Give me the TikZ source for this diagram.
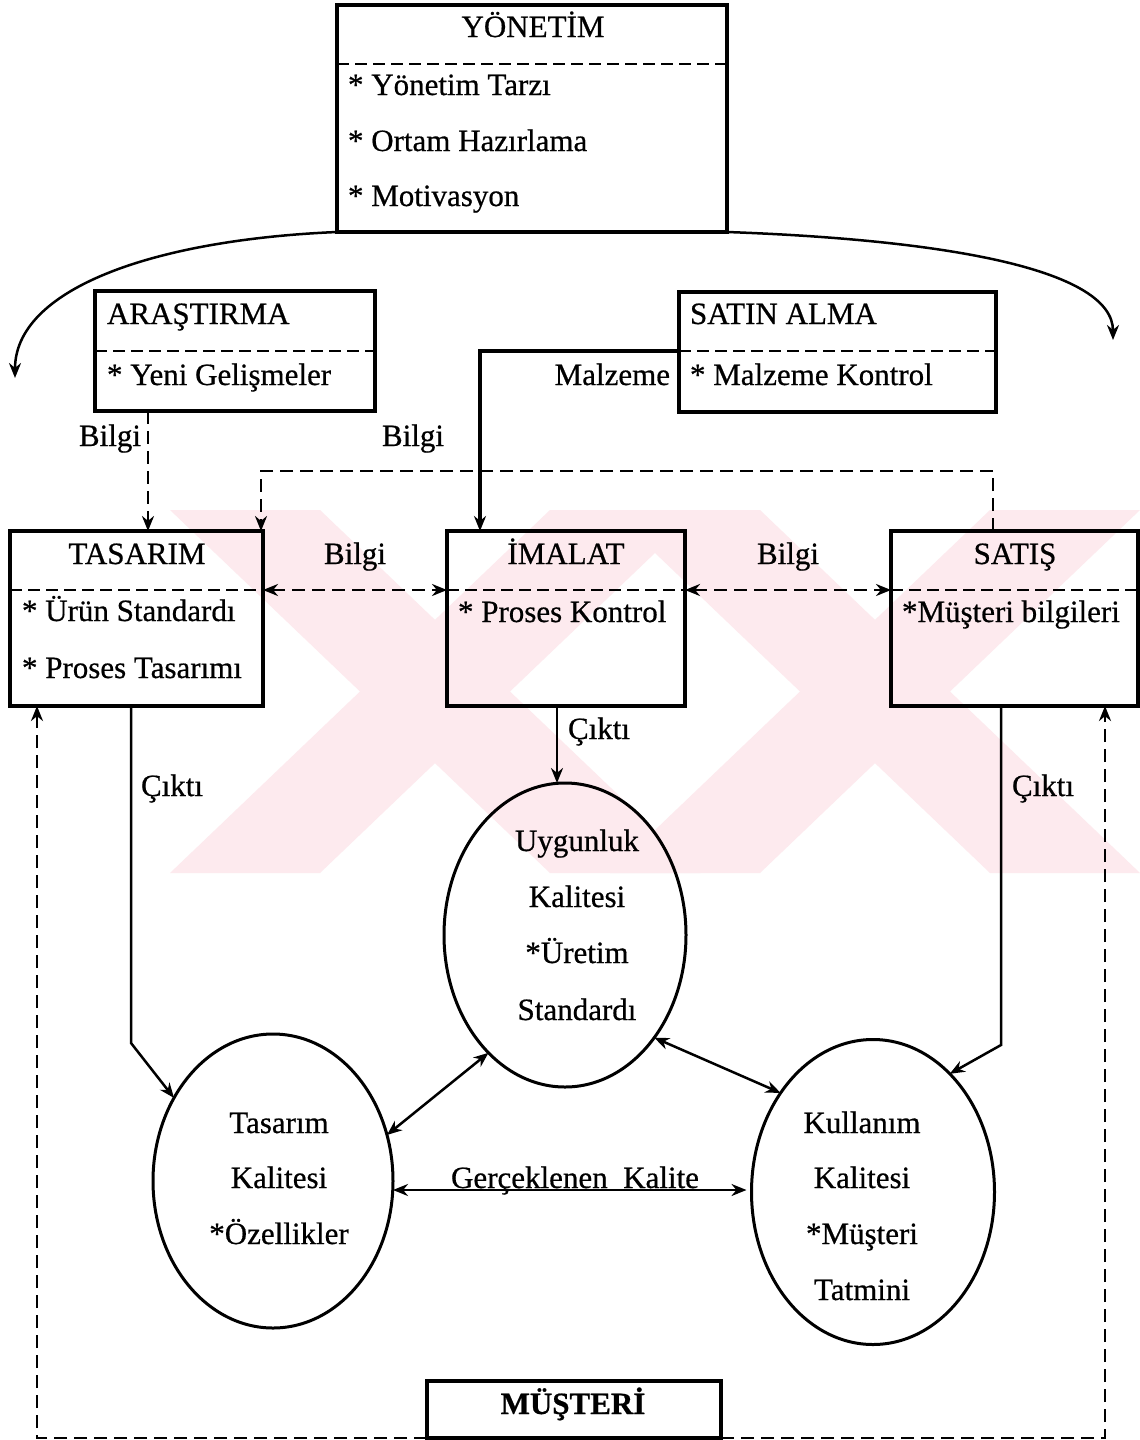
\documentclass[tikz,border=0pt]{standalone}
\usepackage{fontspec}
\setmainfont{Liberation Serif}[FakeBold=0.6]
\usetikzlibrary{arrows.meta,shapes.geometric,calc}
\definecolor{wmpink}{RGB}{253,234,238}

\begin{document}
\begin{tikzpicture}[x=1pt,y=-1pt,
  >={Stealth[length=15pt,width=12pt]},
  box/.style={draw,line width=3.4pt,rectangle,inner sep=0pt,outer sep=0pt,anchor=north west},
  sepline/.style={line width=2pt,dash pattern=on 12pt off 6pt},
  lbl/.style={inner sep=0pt,outer sep=0pt,font=\fontsize{31}{37}\selectfont},
  lt/.style={lbl,anchor=base west},
  ct/.style={lbl,anchor=base},
  rt/.style={lbl,anchor=base east},
  oval/.style={draw,ellipse,line width=3pt,inner sep=0pt,outer sep=0pt},
  flow/.style={line width=2.5pt,->},
  flowtwo/.style={line width=2.5pt,<->},
  info/.style={line width=2.5pt,dash pattern=on 13pt off 7pt,->},
  infotwo/.style={line width=2.5pt,dash pattern=on 13pt off 7pt,<->},
]
% page
\fill[white] (0,0) rectangle (1140,1440);
\path[use as bounding box] (0,0) rectangle (1140,1440);

% faint background emblem
\fill[wmpink] (170,510) -- (320,510) -- (700,873) -- (550,873) -- cycle;
\fill[wmpink] (550,510) -- (700,510) -- (320,873) -- (170,873) -- cycle;
\fill[wmpink] (610,510) -- (760,510) -- (1140,873) -- (990,873) -- cycle;
\fill[wmpink] (990,510) -- (1140,510) -- (760,873) -- (610,873) -- cycle;

% ---------- boxes ----------
\node[box,minimum width=390,minimum height=227] (yon) at (337,5) {};
\node[box,minimum width=280,minimum height=120] (ara) at (95,291) {};
\node[box,minimum width=317,minimum height=120] (sat) at (679,292) {};
\node[box,minimum width=253,minimum height=175] (tas) at (10,531) {};
\node[box,minimum width=238,minimum height=175] (ima) at (447,531) {};
\node[box,minimum width=247,minimum height=175] (sts) at (891,531) {};
\node[box,minimum width=294,minimum height=57] (mus) at (427,1381) {};

% dashed separators under the box titles
\foreach \b/\d in {yon/59,ara/60,sat/59,tas/59,ima/59,sts/59}
  \draw[sepline] ($(\b.north west)+(0,\d)$) -- ($(\b.north east)+(0,\d)$);

% ---------- ellipses ----------
\node[oval,minimum width=242,minimum height=304] (uyg) at (565,935) {};
\node[oval,minimum width=240,minimum height=294] (tsk) at (273,1181) {};
\node[oval,minimum width=243,minimum height=305] (kul) at (873,1192) {};

% ---------- texts ----------
\node[ct] (yonT) at (533,37) {YÖNETİM};
\node[lt] (yon1) at (348,95) {* Yönetim Tarzı};
\node[lt] (yon2) at (348,151) {* Ortam Hazırlama};
\node[lt] (yon3) at (348,206) {* Motivasyon};

\node[lt] (araT) at (107,324) {ARAŞTIRMA};
\node[lt] (ara1) at (107,385) {* Yeni Gelişmeler};
\node[lt] (satT) at (690,324) {SATIN ALMA};
\node[lt] (sat1) at (690,385) {* Malzeme Kontrol};
\node[rt] (malz) at (670,385) {Malzeme};
\node[ct] (bilA) at (110,446) {Bilgi};
\node[ct] (bilB) at (413,446) {Bilgi};

\node[ct] (tasT) at (137,564) {TASARIM};
\node[lt] (tas1) at (22,621) {* Ürün Standardı};
\node[lt] (tas2) at (22,678) {* Proses Tasarımı};
\node[ct] (bilC) at (355,564) {Bilgi};
\node[ct] (imaT) at (566,564) {İMALAT};
\node[lt] (ima1) at (458,622) {* Proses Kontrol};
\node[ct] (bilD) at (788,564) {Bilgi};
\node[ct] (stsT) at (1015,564) {SATIŞ};
\node[lt] (sts1) at (902,622) {*Müşteri bilgileri};

\node[lt] (cikA) at (568,739) {Çıktı};
\node[lt] (cikB) at (141,796) {Çıktı};
\node[lt] (cikC) at (1012,796) {Çıktı};

\node[ct] (uyg1) at (577,851) {Uygunluk};
\node[ct] (uyg2) at (577,907) {Kalitesi};
\node[ct] (uyg3) at (577,963) {*Üretim};
\node[ct] (uyg4) at (577,1020) {Standardı};

\node[ct] (tsk1) at (279,1133) {Tasarım};
\node[ct] (tsk2) at (279,1188) {Kalitesi};
\node[ct] (tsk3) at (279,1244) {*Özellikler};

\node[ct] (kul1) at (862,1133) {Kullanım};
\node[ct] (kul2) at (862,1188) {Kalitesi};
\node[ct] (kul3) at (862,1244) {*Müşteri};
\node[ct] (kul4) at (862,1300) {Tatmini};

\node[ct] (gerc) at (575,1188) {Gerçeklenen\ \ Kalite};
\node[ct,font=\fontsize{31}{37}\selectfont\bfseries] (musT) at (573,1414) {MÜŞTERİ};

% ---------- connectors ----------
\coordinate (lend) at (15,378);
\coordinate (rend) at (1113,340);
\draw[flow] (yon.south west) .. controls (150,240) and (15,290) .. (lend);
\draw[flow] (yon.south east) .. controls (950,240) and (1113,270) .. (rend);

% material flow
\draw[line width=3.2pt,->] ($(sat.north west)+(0,59)$) -| ($(ima.north west)+(33,0)$);

% information flows
\draw[info] ($(ara.south west)+(53,0)$) -- ($(tas.north west)+(138,0)$);
\draw[info] ($(sts.north west)+(102,0)$) -- ++(0,-60) -| ($(tas.north east)+(-2,0)$);
\draw[infotwo] ($(tas.north east)+(0,59)$) -- ($(ima.north west)+(0,59)$);
\draw[infotwo] ($(ima.north east)+(0,59)$) -- ($(sts.north west)+(0,59)$);

% outputs
\coordinate (oA) at ($(ima.south west)+(110,0)$);
\draw[flow] (oA) -- (oA |- uyg.north);
\draw[flow] ($(tas.south west)+(121,0)$) -- ++(0,337) -- (tsk.140);
\draw[flow] ($(sts.south west)+(110,0)$) -- ++(0,339) -- (kul.57);

% quality relations
\draw[flowtwo] (tsk.22) -- (uyg.237);
\draw[flowtwo] (uyg.311) -- (kul.133);
\draw[flowtwo] ($(tsk.east)+(0,9)$) -- ($(kul.west)+(-5,-2)$);

% customer feedback
\draw[info] (mus.south west) -| ($(tas.south west)+(27,0)$);
\draw[info] (mus.south east) -| ($(sts.south west)+(214,0)$);
\end{tikzpicture}
\end{document}
